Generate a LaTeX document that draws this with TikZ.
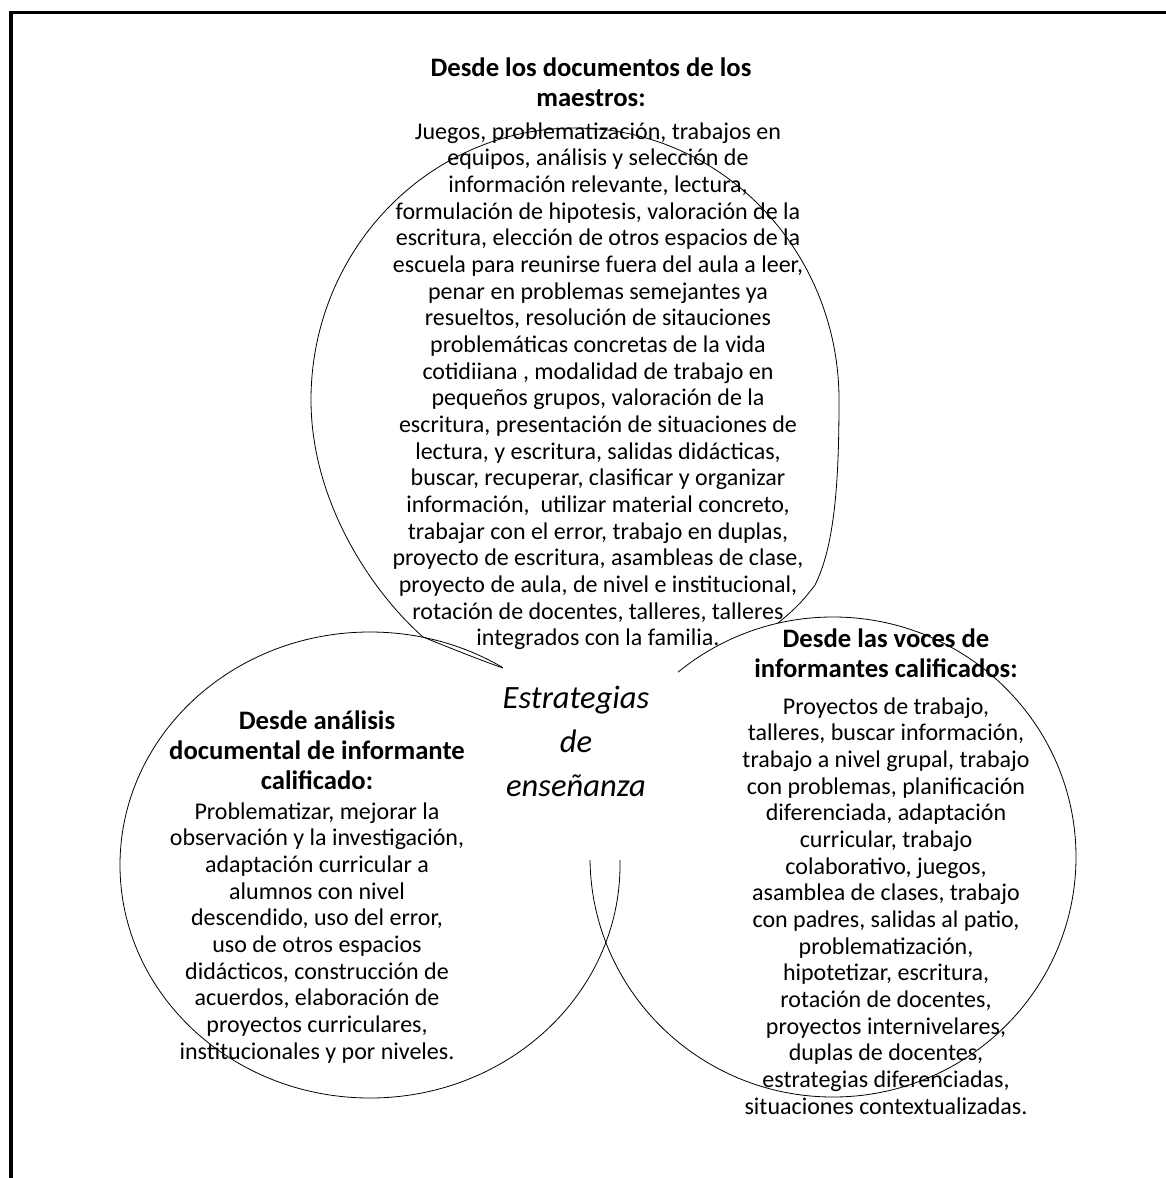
\documentclass[tikz,border=0pt]{standalone}
\usepackage{fontspec}
\setmainfont{Carlito}
\newcommand{\bodyfnt}{\fontsize{18}{20}\selectfont}
\newcommand{\headfnt}{\fontsize{20}{22.5}\selectfont\bfseries}
\newcommand{\corefnt}{\fontsize{24.4}{33}\selectfont\itshape}
\tikzset{
  venn/.style={draw=black, line width=0.6pt},
  txt/.style={anchor=base, inner sep=0pt, outer sep=0pt},
  frame/.style={draw=black, line width=2.7pt}
}
\begin{document}
\begin{tikzpicture}[x=0.75pt, y=-0.75pt]
\useasboundingbox (0,0) rectangle (1166,1178);
\clip (0,0) rectangle (1166,1178);
\fill[white] (0,0) rectangle (1166,1178);
% page frame (only top and left edges visible)
\draw[frame] (11,1200) -- (11,12.5) -- (1200,12.5);
% top shape
\draw[venn, fill=white] (311,400)
  arc[start angle=180, end angle=360, x radius=264, y radius=272]
  .. controls (839,480) and (835,545) .. (815,585)
  .. controls (800,605) and (790,613) .. (778,623)
  .. controls (740,655) and (700,700) .. (620,705)
  .. controls (560,705) and (520,680) .. (503,668)
  .. controls (480,660) and (450,648) .. (423,637)
  .. controls (370,590) and (311,500) .. (311,400) -- cycle;
% right circle
\draw[venn, fill=white] (833,857) ellipse [x radius=243, y radius=240];
% left circle
\draw[venn] (370,865) ellipse [x radius=250, y radius=233];
% central white box
\fill[white] (503,666) rectangle (678,860);
% texts
\node[txt] (tophead) at (591,76) {\headfnt\begin{tabular}[t]{@{}c@{}}Desde los documentos de los\\ maestros:\end{tabular}};
\node[txt] (topbody) at (598,139) {\bodyfnt\begin{tabular}[t]{@{}c@{}}
Juegos, problematización, trabajos en\\
equipos, análisis y selección de\\
información relevante, lectura,\\
formulación de hipotesis, valoración de la\\
escritura, elección de otros espacios de la\\
escuela para reunirse fuera del aula a leer,\\
penar en problemas semejantes ya\\
resueltos, resolución de sitauciones\\
problemáticas concretas de la vida\\
cotidiiana , modalidad de trabajo en\\
pequeños grupos, valoración de la\\
escritura, presentación de situaciones de\\
lectura, y escritura, salidas didácticas,\\
buscar, recuperar, clasificar y organizar\\
información, \ utilizar material concreto,\\
trabajar con el error, trabajo en duplas,\\
proyecto de escritura, asambleas de clase,\\
proyecto de aula, de nivel e institucional,\\
rotación de docentes, talleres, talleres\\
integrados con la familia.\end{tabular}};
\node[txt] (lefthead) at (317,729) {\headfnt\begin{tabular}[t]{@{}c@{}}Desde análisis\\ documental de informante\\ calificado:\end{tabular}};
\node[txt] (leftbody) at (317,819) {\bodyfnt\begin{tabular}[t]{@{}c@{}}
Problematizar, mejorar la\\
observación y la investigación,\\
adaptación curricular a\\
alumnos con nivel\\
descendido, uso del error,\\
uso de otros espacios\\
didácticos, construcción de\\
acuerdos, elaboración de\\
proyectos curriculares,\\
institucionales y por niveles.\end{tabular}};
\node[txt] (righthead) at (886,647) {\headfnt\begin{tabular}[t]{@{}c@{}}Desde las voces de\\ informantes calificados:\end{tabular}};
\node[txt] (rightbody) at (886,714) {\bodyfnt\begin{tabular}[t]{@{}c@{}}
Proyectos de trabajo,\\
talleres, buscar información,\\
trabajo a nivel grupal, trabajo\\
con problemas, planificación\\
diferenciada, adaptación\\
curricular, trabajo\\
colaborativo, juegos,\\
asamblea de clases, trabajo\\
con padres, salidas al patio,\\
problematización,\\
hipotetizar, escritura,\\
rotación de docentes,\\
proyectos internivelares,\\
duplas de docentes,\\
estrategias diferenciadas,\\
situaciones contextualizadas.\end{tabular}};
\node[txt] (core) at (576,708) {\corefnt\begin{tabular}[t]{@{}c@{}}Estrategias\\ de\\ enseñanza\end{tabular}};
\end{tikzpicture}
\end{document}
